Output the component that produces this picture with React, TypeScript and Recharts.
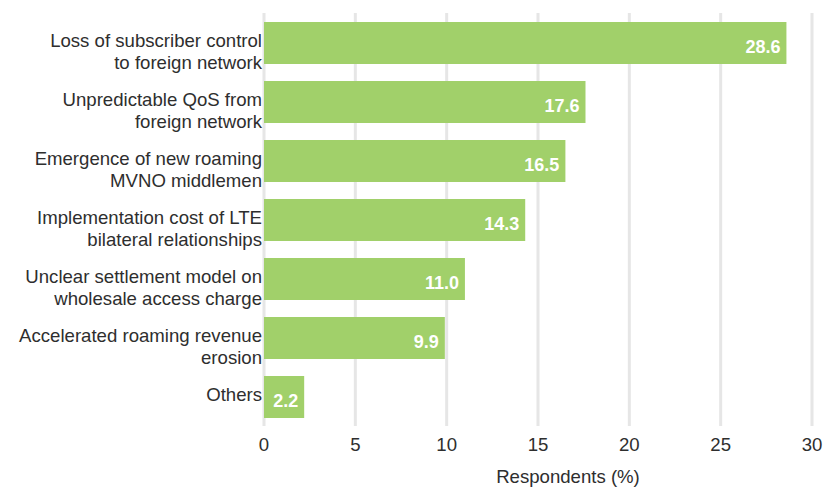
import { BarChart, Bar, XAxis, YAxis, CartesianGrid, LabelList } from "recharts";

const categories = [
  "Loss of subscriber control\nto foreign network",
  "Unpredictable QoS from\nforeign network",
  "Emergence of new roaming\nMVNO middlemen",
  "Implementation cost of LTE\nbilateral relationships",
  "Unclear settlement model on\nwholesale access charge",
  "Accelerated roaming revenue\nerosion",
  "Others",
];
const respondents = [28.6, 17.6, 16.5, 14.3, 11.0, 9.9, 2.2];
const xTicks = [0, 5, 10, 15, 20, 25, 30];

const data = categories.map((name, i) => ({ name, value: respondents[i] }));

const FONT = "'Liberation Sans', Arial, sans-serif";
const TEXT = "#2e2e2e";
const BAR = "#a1d06a";
const FS = 18.6;

function CategoryTick(props: any) {
  const { x, y, payload } = props;
  const lines = String(payload.value).split("\n");
  return (
    <text x={x} y={y} textAnchor="end" fill={TEXT} fontSize={FS} fontFamily={FONT}>
      {lines.map((line, i) => (
        <tspan key={i} x={x} y={y + 4.5 + i * 22}>
          {line}
        </tspan>
      ))}
    </text>
  );
}

function ValueLabel(props: any) {
  const { x, y, width, height, value } = props;
  return (
    <text
      x={x + width - 6}
      y={y + height / 2 + 10}
      textAnchor="end"
      fill="#ffffff"
      fontSize={18}
      fontWeight="bold"
      fontFamily={FONT}
    >
      {Number(value).toFixed(1)}
    </text>
  );
}

export default function App() {
  return (
    <div style={{ position: "absolute", left: 0, top: 0, background: "#fff" }}>
      <BarChart
        width={827}
        height={489}
        data={data}
        layout="vertical"
        margin={{ top: 13, right: 15, bottom: 0, left: 0 }}
        barSize={42}
      >
        <CartesianGrid horizontal={false} stroke="#e6e6e6" strokeWidth={3} />
        <XAxis
          type="number"
          domain={[0, 30]}
          ticks={xTicks}
          axisLine={false}
          tickLine={false}
          tickSize={0}
          tickMargin={12}
          height={63}
          tick={{ fontSize: FS, fill: TEXT, fontFamily: FONT }}
          label={{
            value: "Respondents (%)",
            position: "insideBottom",
            offset: 6,
            dx: 30,
            fontSize: FS,
            fill: TEXT,
            fontFamily: FONT,
          }}
        />
        <YAxis
          type="category"
          dataKey="name"
          width={264}
          axisLine={false}
          tickLine={false}
          tickSize={0}
          tickMargin={2}
          interval={0}
          tick={<CategoryTick />}
        />
        <Bar dataKey="value" fill={BAR} isAnimationActive={false}>
          <LabelList dataKey="value" content={<ValueLabel />} />
        </Bar>
      </BarChart>
    </div>
  );
}
